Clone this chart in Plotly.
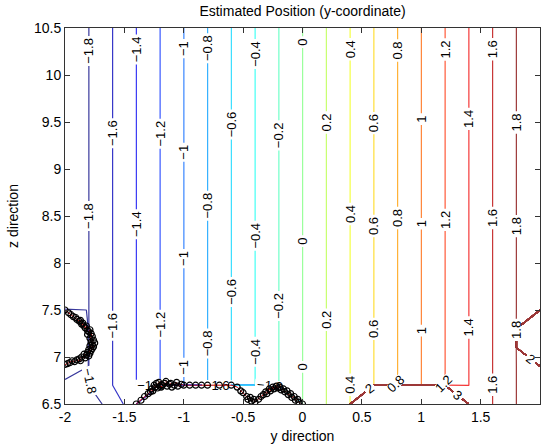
import plotly.graph_objects as go
import numpy as np

# ---- data ----
grid_y = [-2.0, -1.8, -1.6, -1.4, -1.2, -1.0, -0.8, -0.6, -0.4, -0.2, 0.0,
          0.2, 0.4, 0.6, 0.8, 1.0, 1.2, 1.4, 1.6, 1.8, 2.0]
grid_z = [6.5, 6.7, 6.9, 7.1, 7.3, 7.5, 7.7, 7.9, 8.1, 8.3, 8.5,
          8.7, 8.9, 9.1, 9.3, 9.5, 9.7, 9.9, 10.1, 10.3, 10.5]
# estimated y per grid column (regular rows)
est_col = [-2.0, -1.8, -1.6, -1.4, -1.2, -1.0, -0.8, -0.6, -0.4, -0.2, 0.0,
           0.2, 0.4, 0.6, 0.8, 1.0, 1.2, 1.4, 1.6, 1.8, 2.0]
# estimated y on the bottom row (z = 6.5): outliers where the estimator failed
est_bottom = [-1.9, -1.844, -1.764, -1.4, -1000.0, -1000.0, -1000.0, -1000.0, -1000.0, -1000.0, 0.0,
              0.2, 0.4, 1000.0, 1000.0, 1000.0, 1000.0, 1.5, 1.6, 1.8, 2.0]
# estimated y in the left column for rows z = 6.7 .. 7.5
est_left_low = [-1.82, -1.75, -1.75, -1.75, -1.79]
# estimated y in the right column for rows z = 7.1, 7.3
est_right_mid = [1000.0, 1000.0]

levels_start, levels_end, levels_step = -1.8, 14.0, 0.2

traj_y = [-2.00, -1.97, -1.95, -1.93, -1.91, -1.90, -1.88, -1.87, -1.86, -1.84, -1.85, -1.83,
          -1.82, -1.81, -1.80, -1.79, -1.81, -1.78, -1.77, -1.79, -1.76, -1.78, -1.75, -1.77,
          -1.76, -1.79, -1.77, -1.78, -1.80, -1.79, -1.81, -1.82, -1.80, -1.84, -1.83, -1.86,
          -1.88, -1.87, -1.90, -1.92, -1.94, -1.96, -1.98, -2.00, None,
          -1.40, -1.36, -1.33, -1.30, -1.28, -1.27, -1.26, -1.24, -1.25, -1.22, -1.23, -1.20,
          -1.21, -1.18, -1.19, -1.16, -1.14, -1.15, -1.12, -1.10, -1.11, -1.08, -1.06, -1.05,
          -1.02, -1.00, -0.95, -0.90, -0.85, -0.80, -0.70, -0.60, -0.55, -0.52, -0.50, -0.47,
          -0.46, -0.44, -0.43, -0.41, -0.40, -0.37, -0.35, -0.33, -0.31, -0.30, -0.28, -0.27,
          -0.25, -0.24, -0.22, -0.21, -0.19, -0.18, -0.16, -0.15, -0.13, -0.12, -0.10, -0.09,
          -0.07, -0.06, -0.04, -0.03, 0.00]
traj_z = [7.50, 7.47, 7.45, 7.43, 7.42, 7.40, 7.38, 7.39, 7.35, 7.33, 7.36, 7.31,
          7.33, 7.28, 7.27, 7.29, 7.24, 7.25, 7.22, 7.20, 7.18, 7.16, 7.15, 7.13,
          7.11, 7.12, 7.09, 7.07, 7.08, 7.04, 7.05, 7.02, 7.01, 7.03, 6.99, 7.00,
          6.98, 6.96, 6.97, 6.95, 6.96, 6.94, 6.93, 6.92, None,
          6.50, 6.54, 6.58, 6.61, 6.63, 6.66, 6.64, 6.68, 6.70, 6.67, 6.72, 6.69,
          6.73, 6.70, 6.68, 6.72, 6.69, 6.74, 6.71, 6.68, 6.72, 6.70, 6.73, 6.69,
          6.71, 6.70, 6.70, 6.70, 6.70, 6.70, 6.70, 6.70, 6.68, 6.64, 6.62, 6.58,
          6.55, 6.57, 6.53, 6.55, 6.52, 6.55, 6.58, 6.60, 6.63, 6.61, 6.66, 6.64,
          6.68, 6.66, 6.69, 6.67, 6.68, 6.65, 6.66, 6.63, 6.64, 6.60, 6.61, 6.57,
          6.58, 6.54, 6.55, 6.52, 6.50]

# ---- build grid ----
EPS = 1e-3
Z = np.tile(np.array(est_col, dtype=float), (len(grid_z), 1))
Z[0, :] = est_bottom
Z[1:6, 0] = est_left_low
Z[3:5, -1] = est_right_mid
Z = Z - EPS


def mix(rgb, w=0.22):
    return 'rgb(%d,%d,%d)' % tuple(round(c + (255 - c) * w) for c in rgb)


jet = [[0.0, mix((0, 0, 128))], [0.125, mix((0, 0, 255))], [0.375, mix((0, 255, 255))],
       [0.625, mix((255, 255, 0))], [0.875, mix((255, 0, 0))], [1.0, mix((128, 0, 0))]]

font = 'Liberation Sans, Arial, sans-serif'

fig = go.Figure()
fig.add_trace(go.Contour(
    x=grid_y, y=grid_z, z=Z,
    autocontour=False,
    contours=dict(start=levels_start, end=levels_end, size=levels_step,
                  coloring='lines', showlabels=True,
                  labelfont=dict(family=font, size=13, color='black'),
                  labelformat='.1~f'),
    colorscale=jet, zmin=-2, zmax=2, zauto=False,
    line=dict(width=1.2, smoothing=0),
    showscale=False, hoverinfo='skip'))

fig.add_trace(go.Scatter(
    x=traj_y, y=traj_z, mode='lines+markers',
    line=dict(color='rgb(200,0,0)', width=1),
    marker=dict(symbol='circle-open', size=6, color='black', line=dict(width=1.2, color='black')),
    connectgaps=False, showlegend=False, hoverinfo='skip'))

axis_common = dict(ticks='inside', ticklen=5, tickcolor='#333', showline=True,
                   linecolor='#333', linewidth=1, mirror='ticks', showgrid=False,
                   zeroline=False, tickfont=dict(family=font, size=14, color='black'))

fig.update_layout(
    width=542, height=448,
    margin=dict(l=65, r=2, t=28, b=44),
    paper_bgcolor='white', plot_bgcolor='white',
    title=dict(text='Estimated Position (y-coordinate)', x=0.5, xref='paper',
               y=1 - 11 / 448, yref='container', yanchor='middle',
               font=dict(family=font, size=14, color='black')),
    xaxis=dict(range=[-2, 2], tickvals=[-2, -1.5, -1, -0.5, 0, 0.5, 1, 1.5, 2],
               ticktext=['-2', '-1.5', '-1', '-0.5', '0', '0.5', '1', '1.5', '2'],
               title=dict(text='y direction', standoff=7, font=dict(family=font, size=14, color='black')),
               **axis_common),
    yaxis=dict(range=[6.5, 10.5], tickvals=[6.5, 7, 7.5, 8, 8.5, 9, 9.5, 10, 10.5],
               ticktext=['6.5', '7', '7.5', '8', '8.5', '9', '9.5', '10', '10.5'],
               title=dict(text='z direction', standoff=12, font=dict(family=font, size=14, color='black')),
               **axis_common),
    showlegend=False,
)

fig.write_html('out.html')
